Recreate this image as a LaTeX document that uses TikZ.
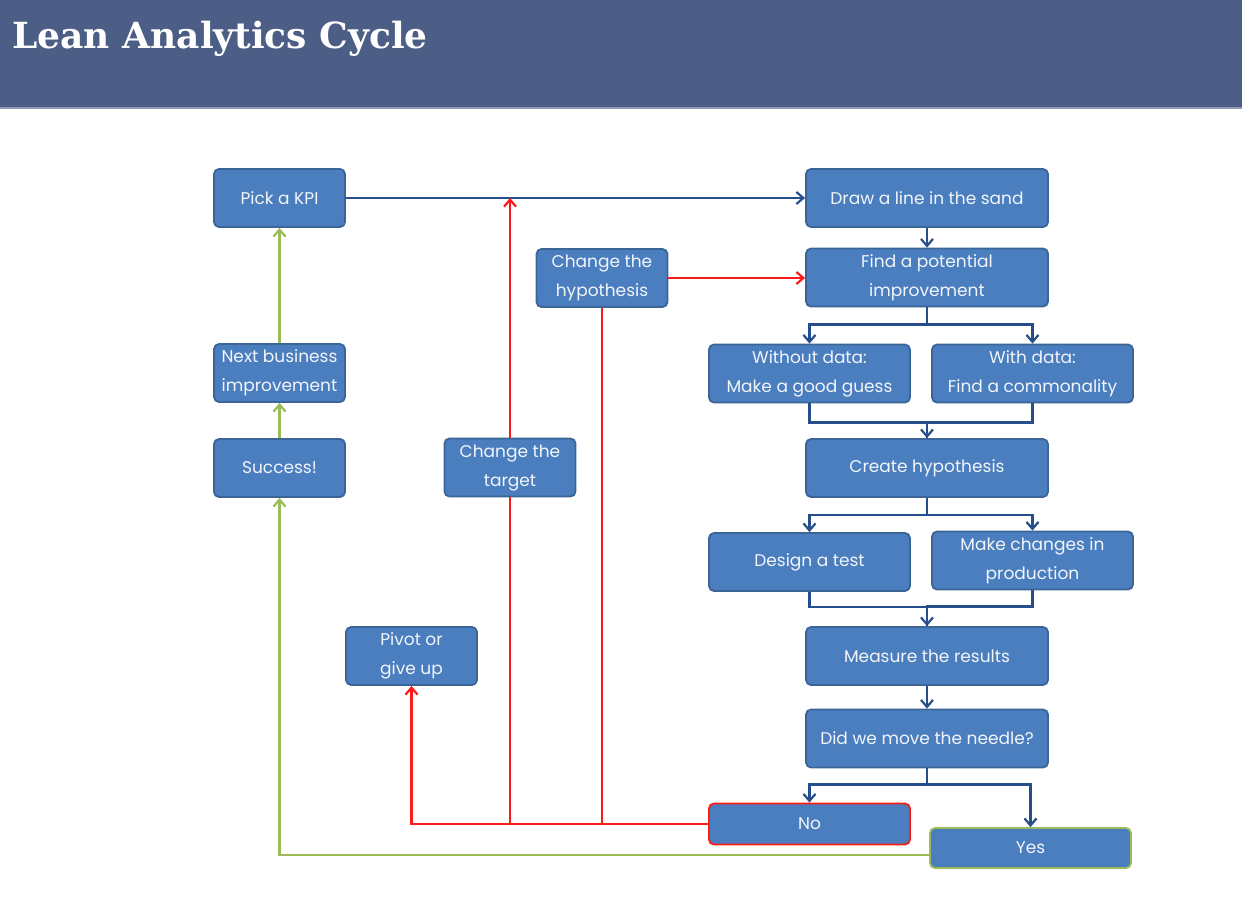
\documentclass[tikz,border=0pt]{standalone}
\usepackage{fontspec}
\setmainfont{Poppins}
\newfontfamily\titlefont{DejaVu Serif}
\usetikzlibrary{arrows.meta}
\definecolor{header}{HTML}{4C5E86}
\definecolor{headerrule}{HTML}{8E9BB6}
\definecolor{boxfill}{HTML}{4A7EBE}
\definecolor{boxline}{HTML}{3A6596}
\definecolor{boxtext}{HTML}{F2F5FA}
\definecolor{flowblue}{HTML}{254E8A}
\definecolor{flowred}{HTML}{FF1A1A}
\definecolor{flowgreen}{HTML}{9BBB59}
\tikzset{
  box/.style={rectangle, rounded corners=2.5pt, draw=boxline, line width=0.9pt,
    fill=boxfill, text=boxtext, align=center, inner sep=1pt,
    minimum height=29pt, font=\fontsize{8.5}{14.5}\selectfont},
  narrowbox/.style={box, minimum width=65.5pt},
  midbox/.style={box, minimum width=100.5pt},
  widebox/.style={box, minimum width=121pt},
  bluearrow/.style={draw=flowblue, line width=1.1pt},
  redarrow/.style={draw=flowred, line width=1.1pt},
  greenarrow/.style={draw=flowgreen, line width=1.1pt}
}
\begin{document}
\begin{tikzpicture}[
                    x=0.5pt, y=-0.5pt,
                    >={Straight Barb[length=3.5pt,width=6pt]}
                ]
                \useasboundingbox (0,0) rectangle (1242,905);
                % Header
                \fill[header] (0,0) rectangle (1242,108);
                \fill[headerrule] (0,107) rectangle (1242,109);
                \node[anchor=base west, inner sep=0pt, text=white,
                      font=\titlefont\bfseries\fontsize{18}{21}\selectfont] (title) at (12,48) {Lean Analytics Cycle};

                % Blocks
                \node[narrowbox] (kpi) at (279.5,198) {Pick a KPI};
                \node[widebox] (sand) at (927,198) {Draw a line in the sand};
                \node[narrowbox] (hypo) at (602,278) {Change the\\hypothesis};
                \node[widebox] (find) at (927,277.5) {Find a potential\\improvement};
                \node[narrowbox] (nextbiz) at (279.5,373) {Next business\\improvement};
                \node[midbox] (nodata) at (809.5,373.5) {Without data:\\Make a good guess};
                \node[midbox] (withdata) at (1032.5,373.5) {With data:\\Find a commonality};
                \node[narrowbox] (success) at (279.5,468) {Success!};
                \node[narrowbox] (target) at (510,467.5) {Change the\\target};
                \node[widebox] (create) at (927,468) {Create hypothesis};
                \node[midbox] (design) at (809.5,562) {Design a test};
                \node[midbox] (changes) at (1032.5,560.5) {Make changes in\\production};
                \node[narrowbox] (pivot) at (411.5,656) {Pivot or\\give up};
                \node[widebox] (measure) at (927,656) {Measure the results};
                \node[widebox] (needle) at (927,738.5) {Did we move the needle?};
                \node[midbox, draw=flowred, minimum height=20.5pt] (no) at (809.5,824) {No};
                \node[midbox, draw=flowgreen, minimum height=20pt] (yes) at (1030.5,848) {Yes};

                % Connections
                \draw[bluearrow,->] (kpi) -- (sand);
                \draw[bluearrow,->] (sand) -- (find);
                \draw[bluearrow,->] (find.south) -- ++(0,17) -| (nodata.north);
                \draw[bluearrow,->] (find.south) -- ++(0,17) -| (withdata.north);
                \draw[bluearrow] (withdata.south) -- ++(0,19) -| (create.north);
                \draw[bluearrow,->] (nodata.south) -- ++(0,19) -| (create.north);
                \draw[bluearrow,->] (create.south) -- ++(0,17) -| (design.north);
                \draw[bluearrow,->] (create.south) -- ++(0,17) -| (changes.north);
                \draw[bluearrow] (changes.south) -- ++(0,16) -| (measure.north);
                \draw[bluearrow,->] (design.south) -- ++(0,15) -| (measure.north);
                \draw[bluearrow,->] (measure) -- (needle);
                \draw[bluearrow,->] (needle.south) -- ++(0,16) -| (no.north);
                \draw[bluearrow,->] (needle.south) -- ++(0,16) -| (yes.north);

                \draw[redarrow,->] (no.west) -| (pivot.south);
                \draw[redarrow] (no.west -| target.south) -- (target.south);
                \draw[redarrow,->] (target.north) -- (target.north |- kpi.east);
                \draw[redarrow] (no.west -| hypo.south) -- (hypo.south);
                \draw[redarrow,->] (hypo.east) -- (hypo.east -| find.west);

                \draw[greenarrow,->] ([yshift=-3.5pt]yes.west) -| (success.south);
                \draw[greenarrow,->] (success) -- (nextbiz);
                \draw[greenarrow,->] (nextbiz) -- (kpi);
\end{tikzpicture}
\end{document}
